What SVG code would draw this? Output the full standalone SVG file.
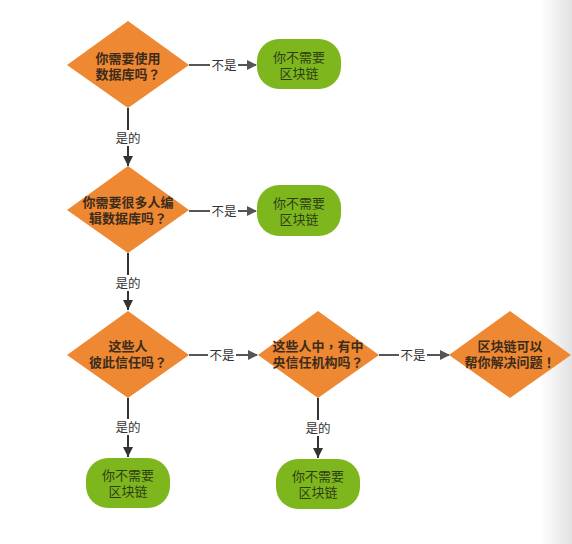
<svg xmlns="http://www.w3.org/2000/svg" width="572" height="544" viewBox="0 0 572 544">
<defs>
<linearGradient id="edge" x1="0" y1="0" x2="1" y2="0">
<stop offset="0" stop-color="#ffffff"/>
<stop offset="1" stop-color="#e2e2e2"/>
</linearGradient>
<marker id="ah" markerWidth="10" markerHeight="10" refX="9" refY="5" orient="auto" markerUnits="userSpaceOnUse">
<path d="M0,0 L10,5 L0,10 Z" fill="#555"/>
</marker>
<marker id="av" markerWidth="10" markerHeight="12" refX="10" refY="5" orient="auto" markerUnits="userSpaceOnUse">
<path d="M0,0 L10,5 L0,10 Z" fill="#333"/>
</marker>
</defs>
<style>
.d{fill:#EE8832;}
.g{fill:#7DB71D;}
.dt{font-family:"Liberation Sans","Noto Sans CJK TC",sans-serif;font-size:13px;font-weight:bold;fill:#3d2b1c;text-anchor:middle;}
.gt{font-family:"Liberation Sans","Noto Sans CJK SC",sans-serif;font-size:13px;fill:#2f3d14;text-anchor:middle;}
.lt{font-family:"Liberation Sans","Noto Sans CJK SC",sans-serif;font-size:12.5px;fill:#333;text-anchor:middle;}
.h{stroke:#555;stroke-width:2;fill:none;}
.v{stroke:#333;stroke-width:2;fill:none;}
.bg{fill:#fff;}
</style>
<rect width="572" height="544" fill="#fff"/>
<rect x="540" y="0" width="32" height="544" fill="url(#edge)"/>
<g id="connectors">
<path class="h" d="M189,65 H256" marker-end="url(#ah)"/>
<rect class="bg" x="210" y="57" width="28" height="16"/>
<text class="lt" x="224" y="70">不是</text>
<path class="v" d="M128,108 V166" marker-end="url(#av)"/>
<rect class="bg" x="114" y="130" width="28" height="16"/>
<text class="lt" x="128" y="143">是的</text>
<path class="h" d="M189,211 H256" marker-end="url(#ah)"/>
<rect class="bg" x="210" y="203" width="28" height="16"/>
<text class="lt" x="224" y="216">不是</text>
<path class="v" d="M128,253 V310" marker-end="url(#av)"/>
<rect class="bg" x="114" y="275" width="28" height="16"/>
<text class="lt" x="128" y="288">是的</text>
<path class="h" d="M189,355 H257" marker-end="url(#ah)"/>
<rect class="bg" x="208" y="347" width="28" height="16"/>
<text class="lt" x="222" y="360">不是</text>
<path class="h" d="M379,355 H449" marker-end="url(#ah)"/>
<rect class="bg" x="399" y="347" width="28" height="16"/>
<text class="lt" x="413" y="360">不是</text>
<path class="v" d="M128,398 V457" marker-end="url(#av)"/>
<rect class="bg" x="114" y="419" width="28" height="16"/>
<text class="lt" x="128" y="432">是的</text>
<path class="v" d="M318,398 V458" marker-end="url(#av)"/>
<rect class="bg" x="304" y="420" width="28" height="16"/>
<text class="lt" x="318" y="433">是的</text>
</g>
<g id="q1">
<polygon class="d" points="128,21 189,65 128,108 67,65"/>
<text class="dt" x="128" y="63">你需要使用</text>
<text class="dt" x="128" y="79">数据库吗？</text>
</g>
<g id="no1">
<rect class="g" x="257" y="39" width="84" height="50" rx="22"/>
<text class="gt" x="299" y="62">你不需要</text>
<text class="gt" x="299" y="78">区块链</text>
</g>
<g id="q2">
<polygon class="d" points="128,166 189,210 128,253 67,210"/>
<text class="dt" x="128" y="207">你需要很多人编</text>
<text class="dt" x="128" y="223">辑数据库吗？</text>
</g>
<g id="no2">
<rect class="g" x="257" y="185" width="84" height="51" rx="22"/>
<text class="gt" x="299" y="208">你不需要</text>
<text class="gt" x="299" y="224">区块链</text>
</g>
<g id="q3">
<polygon class="d" points="128,311 189,355 128,398 67,355"/>
<text class="dt" x="128" y="351">这些人</text>
<text class="dt" x="128" y="367">彼此信任吗？</text>
</g>
<g id="q4">
<polygon class="d" points="318,311 379,355 318,398 258,355"/>
<text class="dt" x="318" y="351">这些人中，有中</text>
<text class="dt" x="318" y="367">央信任机构吗？</text>
</g>
<g id="q5">
<polygon class="d" points="510,311 571,355 510,398 449,355"/>
<text class="dt" x="510" y="351">区块链可以</text>
<text class="dt" x="510" y="367">帮你解决问题！</text>
</g>
<g id="no3">
<rect class="g" x="86" y="458" width="84" height="50" rx="22"/>
<text class="gt" x="128" y="480">你不需要</text>
<text class="gt" x="128" y="496">区块链</text>
</g>
<g id="no4">
<rect class="g" x="276" y="459" width="84" height="50" rx="22"/>
<text class="gt" x="318" y="481">你不需要</text>
<text class="gt" x="318" y="497">区块链</text>
</g>
</svg>
